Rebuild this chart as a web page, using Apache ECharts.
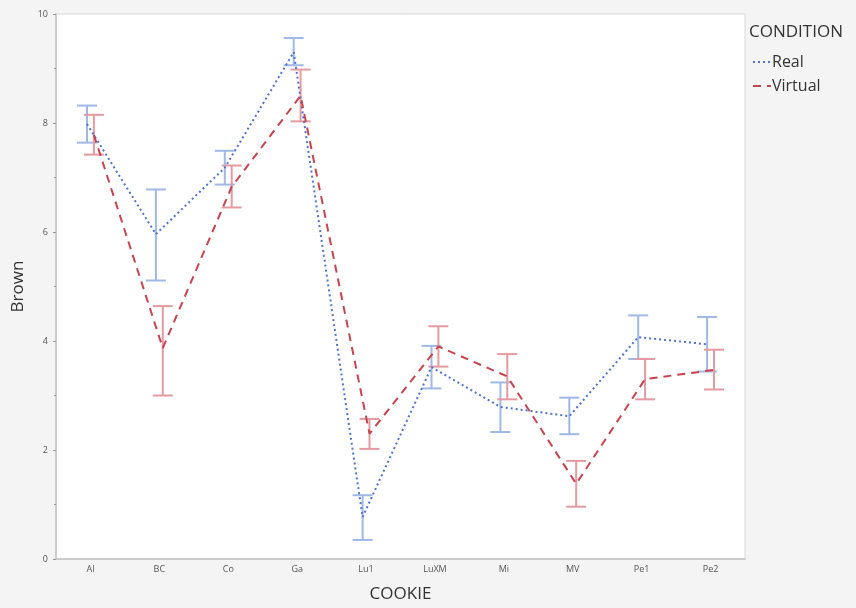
<!DOCTYPE html>
<html><head><meta charset="utf-8">
<script src="https://cdn.jsdelivr.net/npm/echarts@6/dist/echarts.min.js"></script>
<style>html,body{margin:0;padding:0;background:#f4f4f4}#c{width:856px;height:608px}</style>
</head><body><div id="c"></div>
<script>
const categories = ['Al','BC','Co','Ga','Lu1','LuXM','Mi','MV','Pe1','Pe2'];
const realMean = [7.98, 5.96, 7.18, 9.30, 0.77, 3.52, 2.79, 2.62, 4.07, 3.94];
const realLow  = [7.64, 5.11, 6.87, 9.06, 0.35, 3.13, 2.33, 2.29, 3.67, 3.44];
const realHigh = [8.32, 6.78, 7.49, 9.56, 1.17, 3.91, 3.24, 2.96, 4.47, 4.44];
const virtMean = [7.78, 3.87, 6.83, 8.50, 2.30, 3.90, 3.35, 1.38, 3.30, 3.47];
const virtLow  = [7.42, 3.00, 6.45, 8.03, 2.02, 3.53, 2.93, 0.96, 2.93, 3.11];
const virtHigh = [8.15, 4.64, 7.22, 8.98, 2.57, 4.27, 3.76, 1.80, 3.67, 3.84];
const yTicks = [0, 2, 4, 6, 8, 10];
const dodge = 0.05;

const blue = '#4f73cf', blueBar = '#9fb8e6';
const red = '#c9434e', redBar = '#e59aa1';

function linePts(mean, off){ return mean.map((v,i)=>[i+off, v]); }
function barPts(lo, hi, off){ return lo.map((v,i)=>[i+off, v, hi[i]]); }
function errRender(color){
  return function(params, api){
    const x = api.value(0);
    const lo = api.coord([x, api.value(1)]);
    const hi = api.coord([x, api.value(2)]);
    const hw = 10;
    const st = {stroke: color, lineWidth: 2, fill: null};
    return {type:'group', children:[
      {type:'line', shape:{x1:lo[0], y1:lo[1], x2:hi[0], y2:hi[1]}, style:st},
      {type:'line', shape:{x1:lo[0]-hw, y1:lo[1], x2:lo[0]+hw, y2:lo[1]}, style:st},
      {type:'line', shape:{x1:hi[0]-hw, y1:hi[1], x2:hi[0]+hw, y2:hi[1]}, style:st}
    ]};
  };
}

const chart = echarts.init(document.getElementById('c'));
chart.setOption({
  backgroundColor: '#f4f4f4',
  animation: false,
  textStyle: {fontFamily: 'Open Sans'},
  grid: {left: 56, right: 111, top: 14, bottom: 45, show: true, backgroundColor: '#ffffff', borderColor: '#d8d8d8', borderWidth: 1},
  legend: {
    orient: 'vertical', left: 747, top: 49, itemWidth: 18, itemHeight: 10, itemGap: 8,
    data: ['Real', 'Virtual'],
    itemStyle: {opacity: 0},
    textStyle: {fontSize: 16, color: '#333', fontFamily: 'Open Sans', padding: [0,0,0,-4]}
  },
  graphic: [{type: 'text', left: 749, top: 24, style: {text: 'CONDITION', fontSize: 17, fill: '#333', fontFamily: 'Open Sans'}}],
  xAxis: [
    {type: 'category', data: categories, boundaryGap: true,
     name: 'COOKIE', nameLocation: 'middle', nameGap: 27, nameTextStyle: {fontSize: 17, color: '#333'},
     axisLine: {lineStyle: {color: '#cccccc', width: 2}}, axisTick: {show: false},
     axisLabel: {fontSize: 9, color: '#555', margin: 6}},
    {type: 'value', min: -0.5, max: 9.5, show: false}
  ],
  yAxis: {type: 'value', min: 0, max: 10, interval: 2,
    name: 'Brown', nameLocation: 'middle', nameGap: 21, nameTextStyle: {fontSize: 17, color: '#333'},
    axisLine: {show: true, onZero: false, lineStyle: {color: '#cccccc', width: 2}},
    axisTick: {show: true, length: 3, lineStyle: {color: '#999'}},
    minorTick: {show: true, splitNumber: 2, length: 2, lineStyle: {color: '#999'}},
    splitLine: {show: false},
    axisLabel: {fontSize: 9, color: '#555', margin: 8, formatter: v => yTicks.includes(v) ? String(v) : ''}},
  series: [
    {name: 'RealErr', type: 'custom', xAxisIndex: 1, renderItem: errRender(blueBar), data: barPts(realLow, realHigh, -dodge), z: 2},
    {name: 'VirtualErr', type: 'custom', xAxisIndex: 1, renderItem: errRender(redBar), data: barPts(virtLow, virtHigh, dodge), z: 2},
    {name: 'Real', type: 'line', xAxisIndex: 1, data: linePts(realMean, -dodge), symbol: 'none', z: 3,
     lineStyle: {color: blue, width: 2, type: [2, 3]}, itemStyle: {color: blue}},
    {name: 'Virtual', type: 'line', xAxisIndex: 1, data: linePts(virtMean, dodge), symbol: 'none', z: 3,
     lineStyle: {color: red, width: 2, type: [8, 6]}, itemStyle: {color: red}}
  ]
});
</script></body></html>
